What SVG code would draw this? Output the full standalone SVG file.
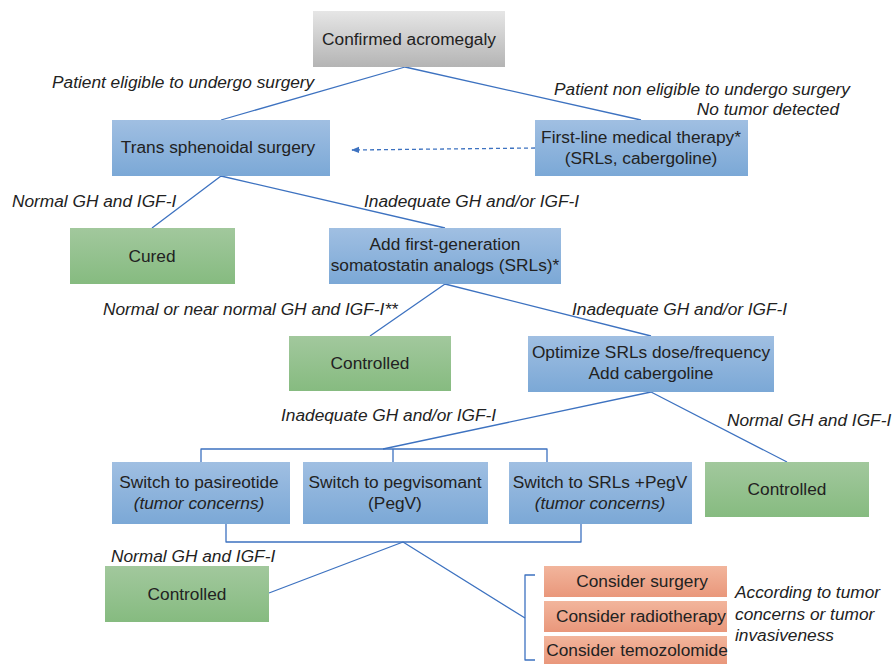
<svg xmlns="http://www.w3.org/2000/svg" width="893" height="664" viewBox="0 0 893 664">
<defs>
<linearGradient id="gGray" x1="0" y1="0" x2="0" y2="1"><stop offset="0" stop-color="#e6e6e6"/><stop offset="1" stop-color="#b4b4b4"/></linearGradient>
<linearGradient id="gBlue" x1="0" y1="0" x2="0" y2="1"><stop offset="0" stop-color="#a0bfe2"/><stop offset="1" stop-color="#7ba8d6"/></linearGradient>
<linearGradient id="gGreen" x1="0" y1="0" x2="0" y2="1"><stop offset="0" stop-color="#a2c89d"/><stop offset="1" stop-color="#86bb80"/></linearGradient>
<linearGradient id="gOrange" x1="0" y1="0" x2="0" y2="1"><stop offset="0" stop-color="#f2b59c"/><stop offset="1" stop-color="#e9977b"/></linearGradient>
<marker id="arr" viewBox="0 0 10 10" refX="9" refY="5" markerWidth="6" markerHeight="6" orient="auto-start-reverse"><path d="M0,1 L10,5 L0,9 z" fill="#3d72c0"/></marker>
</defs>
<style>
text{font-family:"Liberation Sans",Arial,sans-serif;font-size:17.3px;fill:#222}
.c{text-anchor:middle}
.i{font-style:italic}
.ln{fill:none;stroke:#3d72c0;stroke-width:1.3;stroke-linejoin:round}
.dash{stroke-dasharray:4 3}
</style>
<g id="connectors">
<path class="ln" d="M405,67 L221,120 M405,67 L641,120"/>
<path class="ln dash" d="M535,148 L352,150" marker-end="url(#arr)"/>
<path class="ln" d="M221,176 L152,228 M221,176 L445,228"/>
<path class="ln" d="M445,284 L370,336 M445,284 L651,336"/>
<path class="ln" d="M651,392 L383,449 M651,392 L787,462"/>
<path class="ln" d="M201,462 L201,449 L547,449 L547,462 M393,449 L393,462"/>
<path class="ln" d="M226,524 L226,542 L581,542 L581,524"/>
<path class="ln" d="M403,542 L269,593 M403,542 L525,618"/>
<path class="ln" d="M535,575 L525,575 L525,660 L535,660"/>
</g>
<g id="n-confirmed"><rect x="313" y="11" width="192" height="56" fill="url(#gGray)"/><text class="c" x="409" y="45">Confirmed acromegaly</text></g>
<g id="n-trans"><rect x="112" y="120" width="218" height="56" fill="url(#gBlue)"/><text class="c" x="218" y="153">Trans sphenoidal surgery</text></g>
<g id="n-firstline"><rect x="535" y="120" width="213" height="56" fill="url(#gBlue)"/><text class="c" x="641" y="143">First-line medical therapy*</text><text class="c" x="641" y="164">(SRLs, cabergoline)</text></g>
<g id="n-cured"><rect x="70" y="228" width="165" height="56" fill="url(#gGreen)"/><text class="c" x="152" y="262">Cured</text></g>
<g id="n-add"><rect x="329" y="228" width="232" height="56" fill="url(#gBlue)"/><text class="c" x="445" y="250">Add first-generation</text><text class="c" x="445" y="271">somatostatin analogs (SRLs)*</text></g>
<g id="n-controlled1"><rect x="289" y="336" width="162" height="55" fill="url(#gGreen)"/><text class="c" x="370" y="369">Controlled</text></g>
<g id="n-optimize"><rect x="528" y="336" width="246" height="56" fill="url(#gBlue)"/><text class="c" x="651" y="358">Optimize SRLs dose/frequency</text><text class="c" x="651" y="379">Add cabergoline</text></g>
<g id="n-controlled2"><rect x="705" y="462" width="164" height="55" fill="url(#gGreen)"/><text class="c" x="787" y="495">Controlled</text></g>
<g id="n-pasireotide"><rect x="112" y="462" width="178" height="62" fill="url(#gBlue)"/><text class="c" x="199" y="488">Switch to pasireotide</text><text class="c i" x="199" y="509">(tumor concerns)</text></g>
<g id="n-pegvisomant"><rect x="303" y="462" width="185" height="62" fill="url(#gBlue)"/><text class="c" x="395" y="488">Switch to pegvisomant</text><text class="c" x="395" y="509">(PegV)</text></g>
<g id="n-srlspegv"><rect x="509" y="462" width="183" height="62" fill="url(#gBlue)"/><text class="c" x="600" y="488">Switch to SRLs +PegV</text><text class="c i" x="600" y="509">(tumor concerns)</text></g>
<g id="n-controlled3"><rect x="105" y="566" width="164" height="56" fill="url(#gGreen)"/><text class="c" x="187" y="600">Controlled</text></g>
<g id="n-surgery"><rect x="544" y="566" width="183" height="31" fill="url(#gOrange)"/><text class="c" x="642" y="587">Consider surgery</text></g>
<g id="n-radio"><rect x="544" y="601" width="183" height="31" fill="url(#gOrange)"/><text class="c" x="641" y="622">Consider radiotherapy</text></g>
<g id="n-temo"><rect x="544" y="636" width="183" height="28" fill="url(#gOrange)"/><text class="c" x="637" y="656">Consider temozolomide</text></g>
<g id="labels">
<text class="i" x="52" y="88">Patient eligible to undergo surgery</text>
<text class="i" x="850" y="95" text-anchor="end">Patient non eligible to undergo surgery</text>
<text class="i" x="839" y="115" text-anchor="end">No tumor detected</text>
<text class="i" x="12" y="207">Normal GH and IGF-I</text>
<text class="i" x="364" y="207">Inadequate GH and/or IGF-I</text>
<text class="i" x="103" y="315">Normal or near normal GH and IGF-I**</text>
<text class="i" x="572" y="315">Inadequate GH and/or IGF-I</text>
<text class="i" x="281" y="421">Inadequate GH and/or IGF-I</text>
<text class="i" x="727" y="426">Normal GH and IGF-I</text>
<text class="i" x="111" y="562">Normal GH and IGF-I</text>
<text class="i" x="735" y="598">According to tumor</text>
<text class="i" x="735" y="620">concerns or tumor</text>
<text class="i" x="735" y="641">invasiveness</text>
</g>
</svg>
